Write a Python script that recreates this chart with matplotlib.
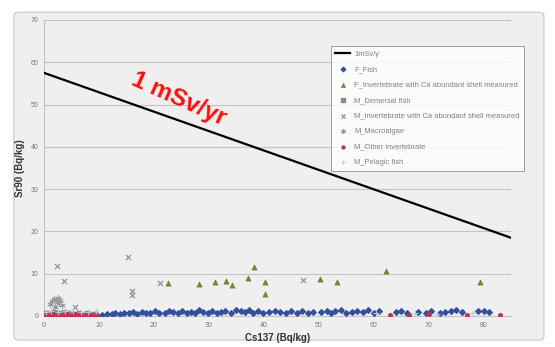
import matplotlib
matplotlib.use('Agg')
import matplotlib.pyplot as plt
from matplotlib.patches import FancyBboxPatch

plt.rcParams['font.family'] = ['Liberation Sans', 'DejaVu Sans']

# 1 mSv/y limit line
line_x = [0, 85]
line_y = [57.5, 18.5]

# F_Fish
ffish_x = [10.5, 11.5, 12.3, 13.0, 13.8, 14.6, 15.5, 16.2, 17.0, 17.8, 18.5, 19.3,
           20.2, 21.0, 22.0, 22.8, 23.5, 24.3, 25.2, 26.0, 26.8, 27.5, 28.3, 29.0,
           29.8, 30.5, 31.5, 32.3, 33.0, 34.0, 35.0, 35.8, 36.5, 37.3, 38.0, 39.0,
           39.8, 41.0, 42.0, 43.0, 44.0, 45.0, 46.0, 47.0, 48.0, 49.0, 50.5, 51.5,
           52.3, 53.0, 54.0, 55.0, 56.0, 57.0, 58.0, 59.0, 60.0, 61.0, 64.0, 65.0,
           66.0, 68.0, 69.5, 70.5, 72.0, 73.0, 74.0, 75.0, 76.0, 79.0, 80.0, 81.0]
ffish_y = [0.3, 0.5, 0.4, 0.7, 0.5, 0.8, 0.6, 0.9, 0.5, 1.0, 0.7, 0.6,
           1.1, 0.8, 0.6, 1.2, 0.9, 0.7, 1.3, 0.8, 1.0, 0.6, 1.4, 0.9,
           0.7, 1.2, 0.8, 1.0, 1.3, 0.6, 1.5, 1.1, 0.9, 1.4, 0.7, 1.2,
           0.8, 1.0, 1.3, 0.9, 0.6, 1.1, 0.8, 1.2, 0.7, 1.0, 0.9, 1.3,
           0.8, 1.1, 1.4, 0.7, 1.0, 1.2, 0.9, 1.5, 0.8, 1.1, 0.9, 1.2,
           0.7, 1.0, 0.8, 1.3, 0.6, 0.9, 1.1, 1.4, 1.0, 1.2, 1.3, 0.9]

# F_Invertebrate with Ca abundant shell measured
finv_x = [22.5, 28.2, 31.1, 33.1, 34.2, 37.2, 38.2, 40.2, 40.2, 50.2, 53.4, 62.2, 79.4]
finv_y = [7.8, 7.5, 8.1, 8.3, 7.3, 9.0, 11.7, 8.1, 5.2, 8.7, 8.1, 10.7, 8.1]

# M_Demersal fish
mdem_x = [0.3, 0.6, 1.0, 1.4, 1.8, 2.2, 2.7, 3.1, 3.6, 4.0, 4.5, 5.0, 5.6, 6.3, 7.0, 7.8, 8.5, 9.3]
mdem_y = [0.6, 0.2, 0.8, 0.4, 0.9, 0.3, 0.7, 0.5, 1.0, 0.2, 0.6, 0.8, 0.4, 0.7, 0.3, 0.6, 0.5, 0.4]

# M_Invertebrate with Ca abundant shell measured
minv_x = [2.3, 3.6, 15.3, 16.1, 16.1, 21.1, 47.1, 5.6]
minv_y = [11.8, 8.3, 14.0, 5.9, 5.0, 7.9, 8.5, 2.1]

# M_Macroalgae
malg_x = [1.1, 1.5, 1.9, 2.3, 2.6, 3.0, 3.3, 2.0, 2.8]
malg_y = [2.8, 3.5, 4.0, 3.2, 4.3, 3.7, 2.6, 2.2, 3.0]

# M_Other invertebrate
moth_x = [0.2, 0.5, 0.9, 1.2, 1.6, 2.0, 2.4, 2.9, 3.3, 3.8, 4.2, 4.7, 5.2, 5.7, 6.2,
          6.7, 7.2, 7.7, 8.2, 8.7, 9.2, 9.7, 63.0, 66.5, 70.0, 77.0, 83.0]
moth_y = [0.2, 0.4, 0.1, 0.3, 0.5, 0.2, 0.4, 0.1, 0.3, 0.2, 0.5, 0.1, 0.3, 0.4, 0.2,
          0.3, 0.1, 0.4, 0.2, 0.3, 0.1, 0.2, 0.3, 0.2, 0.4, 0.3, 0.2]

# M_Pelagic fish
mpel_x = [0.4, 1.3, 2.5, 3.9, 5.3, 6.8, 8.0, 9.5, 60.5, 67.5, 71.5, 78.0]
mpel_y = [1.0, 1.2, 0.9, 1.1, 1.3, 0.9, 1.0, 1.2, 0.6, 0.8, 0.5, 0.7]

bg = '#efefef'
fig = plt.figure(figsize=(5.55, 3.47), dpi=100, facecolor='white')
frame = FancyBboxPatch((0.025, 0.02), 0.955, 0.945, boxstyle='round,pad=0,rounding_size=0.01',
                       transform=fig.transFigure, facecolor=bg, edgecolor='#c8c8c8', lw=0.8, zorder=-10)
fig.patches.append(frame)
ax = fig.add_axes([44 / 555, 31 / 347, 467 / 555, 296 / 347])
ax.set_facecolor(bg)

ax.plot(line_x, line_y, color='black', lw=1.6, label='1mSv/y', zorder=4)
ax.scatter(ffish_x, ffish_y, marker='D', s=8, color='#34509c', label='F_Fish', zorder=3)
ax.scatter(finv_x, finv_y, marker='^', s=14, color='#7a8a30', edgecolors='#6a7020', lw=0.4,
           label='F_Invertebrate with Ca abundant shell measured', zorder=3)
ax.scatter(mdem_x, mdem_y, marker='s', s=8, color='#8a8a8a', label='M_Demersal fish', zorder=3)
ax.scatter(minv_x, minv_y, marker='x', s=14, color='#8a8a8a', lw=0.8,
           label='M_Invertebrate with Ca abundant shell measured', zorder=3)
ax.scatter(malg_x, malg_y, marker=(6, 2, 0), s=16, color='#9a9a9a', lw=0.7, label='M_Macroalgae', zorder=3)
ax.scatter(moth_x, moth_y, marker='o', s=7, color='#c83050', label='M_Other invertebrate', zorder=3)
ax.scatter(mpel_x, mpel_y, marker='+', s=14, color='#b8c8dc', lw=0.8, label='M_Pelagic fish', zorder=3)

ax.set_xlim(0, 85)
ax.set_ylim(0, 70)
ax.set_xticks(range(0, 81, 10))
ax.set_yticks(range(0, 71, 10))
ax.tick_params(length=0, labelsize=5, labelcolor='#777777', pad=4)
ax.yaxis.grid(True, color='#c4c4c4', lw=0.8)
ax.set_axisbelow(True)
for side in ['top', 'right']:
    ax.spines[side].set_visible(False)
ax.spines['left'].set_color('#c4c4c4')
ax.spines['bottom'].set_color('#c4c4c4')

ax.set_xlabel('Cs137 (Bq/kg)', fontsize=7, fontweight='bold', color='#333333', labelpad=3)
ax.set_ylabel('Sr90 (Bq/kg)', fontsize=7, fontweight='bold', color='#333333', labelpad=4)

ax.text(24.5, 51.2, '1 mSv/yr', color='#ff1010', fontsize=17.5, fontweight='bold',
        rotation=-24, ha='center', va='center', rotation_mode='anchor')

leg = ax.legend(loc='upper left', bbox_to_anchor=(327 / 555, 1 - 42 / 347),
                bbox_transform=fig.transFigure, fontsize=5.4, frameon=True, fancybox=False,
                edgecolor='#777777', facecolor='white', labelcolor='#808080',
                handlelength=2.0, handletextpad=0.5, borderpad=0.6, labelspacing=1.1,
                markerscale=0.8)
leg.get_frame().set_linewidth(0.6)

fig.savefig('out.png', dpi=100, facecolor='white')
